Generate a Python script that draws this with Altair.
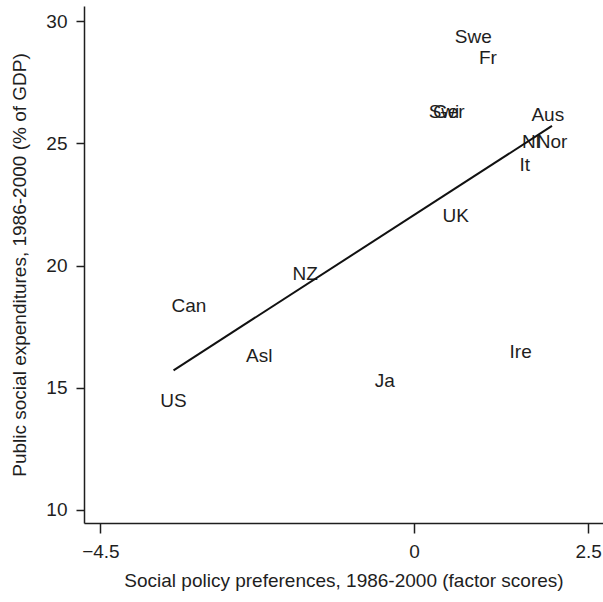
import altair as alt
import pandas as pd

# Country abbreviations, social policy preference scores and social spending
countries = ["Swe", "Fr", "Swi", "Ger", "Aus", "Nl", "Nor", "It", "UK",
             "NZ", "Can", "Asl", "Ja", "Ire", "US"]
preferences = [0.85, 1.06, 0.43, 0.50, 1.92, 1.68, 1.98, 1.59, 0.60,
               -1.56, -3.23, -2.22, -0.42, 1.53, -3.45]
expenditures = [29.37, 28.50, 26.29, 26.29, 26.17, 25.06, 25.06, 24.10, 22.03,
                19.66, 18.34, 16.30, 15.27, 16.46, 14.44]

x_ticks = [-4.5, 0, 2.5]
y_ticks = [10, 15, 20, 25, 30]

df = pd.DataFrame({"country": countries, "pref": preferences, "spend": expenditures})

FONT = "Liberation Sans"
INK = "#1e1e1e"

x_scale = alt.Scale(domain=[-4.735, 2.712], nice=False, zero=False)
y_scale = alt.Scale(domain=[9.447, 30.635], nice=False, zero=False)

x_enc = alt.X(
    "pref:Q", scale=x_scale,
    axis=alt.Axis(
        title="Social policy preferences, 1986-2000 (factor scores)",
        values=x_ticks, format="", grid=False,
        domainColor=INK, domainWidth=1.5, tickColor=INK, tickWidth=1.5, tickSize=10,
        labelFont=FONT, labelFontSize=19, labelColor=INK, labelPadding=9,
        labelFlush=False,
        titleFont=FONT, titleFontSize=19, titleFontWeight="normal", titleColor=INK,
        titlePadding=10,
    ),
)
y_enc = alt.Y(
    "spend:Q", scale=y_scale,
    axis=alt.Axis(
        title="Public social expenditures, 1986-2000 (% of GDP)",
        values=y_ticks, grid=False,
        domainColor=INK, domainWidth=1.5, tickColor=INK, tickWidth=1.5, tickSize=8,
        labelFont=FONT, labelFontSize=19, labelColor=INK, labelPadding=9,
        labelFlush=False,
        titleFont=FONT, titleFontSize=19, titleFontWeight="normal", titleColor=INK,
        titlePadding=16,
    ),
)

labels = alt.Chart(df).mark_text(
    font=FONT, fontSize=19, color=INK, align="center", baseline="middle"
).encode(x=x_enc, y=y_enc, text="country:N")

# Least-squares fit across the observed range of preferences
fit = alt.Chart(df).mark_line(color="#111111", strokeWidth=2).transform_regression(
    "pref", "spend"
).encode(
    x=alt.X("pref:Q", scale=x_scale),
    y=alt.Y("spend:Q", scale=y_scale),
)

chart = alt.layer(labels, fit).properties(
    width=519,
    height=517,
    autosize=alt.AutoSizeParams(type="none"),
    padding={"left": 84, "top": 6, "right": 0, "bottom": 79},
    background="white",
).configure_view(stroke=None)

chart.save("out.html", embed_options={"renderer": "svg", "actions": False})
